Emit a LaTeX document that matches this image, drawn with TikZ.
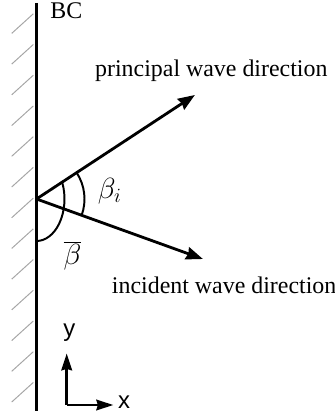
\documentclass[tikz,border=0pt]{standalone}
\usepackage{fontspec}
\setmainfont{Liberation Serif}
\setsansfont{Liberation Sans}
\usetikzlibrary{arrows.meta}

\begin{document}
\begin{tikzpicture}[
    font=\fontsize{17}{20}\selectfont,
    lbl/.style={inner sep=0pt},
    mlbl/.style={inner sep=0pt, font=\fontsize{22}{26}\selectfont},
    axlbl/.style={inner sep=0pt, font=\fontsize{17}{20}\sffamily},
    wall/.style={line width=2.6pt},
    hatch/.style={gray!70, line width=0.7pt},
    arr/.style={-{Stealth[length=12pt, width=9pt, inset=1pt]}, line width=2pt},
    axarr/.style={-{Stealth[length=12pt, width=7.5pt, inset=1pt]}, line width=2pt},
    ang/.style={line width=1.4pt}
]
\useasboundingbox (-0.9125, -5.45) rectangle (7.4625, 4.975);

%% ── Wall (BC) with hatching ──────────────────────────────────────────────────
\coordinate (wtop) at (0, 4.9);
\coordinate (wbot) at (0, -5.3);
\coordinate (o)    at (0, 0);
\draw[wall] (wtop) -- (wbot);
\foreach \i in {0,...,12}
    \draw[hatch] (-0.62, 4.14-0.768*\i) -- ++(0.54, 0.49);
\node[lbl, anchor=base west] (bc) at (0.34, 4.52) {BC};

%% ── Wave directions ──────────────────────────────────────────────────────────
\coordinate (ptip) at (3.96, 2.6);
\coordinate (itip) at (4.16, -1.5);
\draw[arr] (o) -- (ptip);
\draw[arr] (o) -- (itip);
\node[lbl, anchor=base west] (ptxt) at (1.46, 3.06)  {principal wave direction};
\node[lbl, anchor=base west] (itxt) at (1.88, -2.36) {incident wave direction};

%% ── Angles ───────────────────────────────────────────────────────────────────
\draw[ang] (o) ++(33.3:1.2) arc[start angle=33.3, end angle=-19.8, radius=1.2];
\draw[ang] (o) ++(23.7:0.7 and 1.05) arc[start angle=23.7, end angle=-90, x radius=0.7, y radius=1.05];
\node[mlbl] (bi)   at (1.83, 0.2)  {$\beta_i$};
\node[mlbl] (bbar) at (0.9, -1.42) {$\overline{\beta}$};

%% ── Axes ─────────────────────────────────────────────────────────────────────
\coordinate (ax) at (0.755, -5.15);
\coordinate (ay) at (0.755, -3.86);
\coordinate (axx) at (1.92, -5.15);
\draw[axarr] (ax) -- (ay);
\draw[axarr] (ax) -- (axx);
\node[axlbl] (ylbl) at (0.82, -3.34) {y};
\node[axlbl] (xlbl) at (2.19, -5.07) {x};

\end{tikzpicture}
\end{document}
